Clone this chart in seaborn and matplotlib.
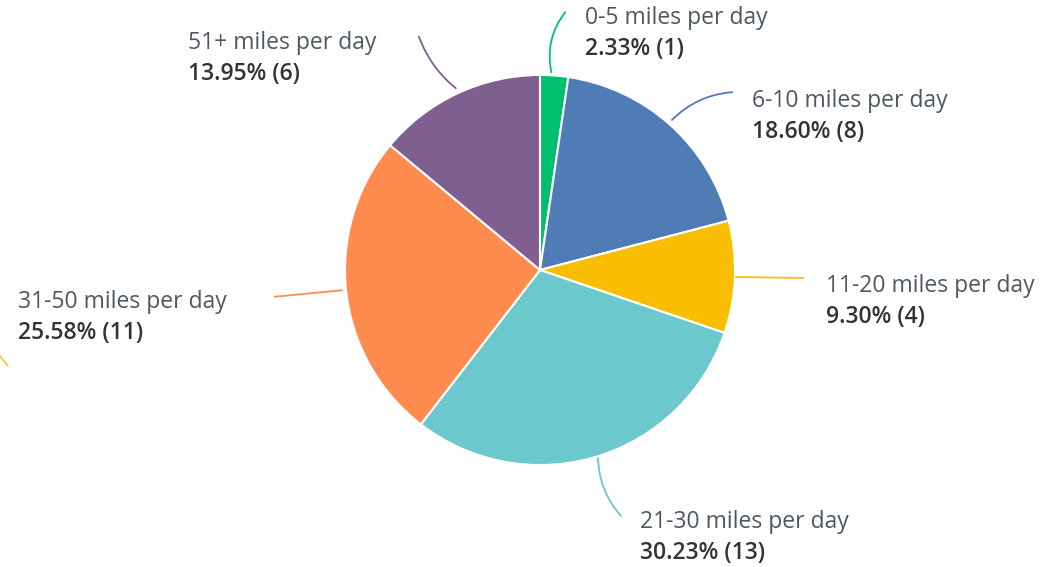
import matplotlib
matplotlib.use("Agg")
import matplotlib.pyplot as plt
import seaborn as sns

# datos del gráfico
categorias = ["0-5 miles per day", "6-10 miles per day", "11-20 miles per day",
              "21-30 miles per day", "31-50 miles per day", "51+ miles per day"]
respuestas = [1, 8, 4, 13, 11, 6]
colores = ["#00bf6f", "#507cb6", "#f9be00", "#6bc8cd", "#ff8b4f", "#7f5f90"]

sns.set_theme(style="white")
plt.rcParams["font.family"] = ["Open Sans", "DejaVu Sans"]

fig = plt.figure(figsize=(10.48, 5.67), dpi=100)
ax = fig.add_axes([0, 0, 1, 1])

palette = sns.color_palette(colores)
wedges, _ = ax.pie(respuestas, colors=palette, startangle=90, counterclock=False,
                   center=(540, 297), radius=195,
                   wedgeprops=dict(edgecolor="white", linewidth=1.5))
ax.set_aspect("equal")
ax.set_xlim(0, 1048)
ax.set_ylim(0, 567)
ax.axis("off")

total = sum(respuestas)

# posiciones de etiquetas y líneas guía (en píxeles, y desde arriba)
etiquetas = [
    # (x texto, y texto, inicio línea, fin línea, curvatura)
    (585, 18, (552, 75), (567, 10), -0.25),
    (752, 101, (670, 122), (735, 92), -0.2),
    (826, 286, (733, 277), (806, 278), 0.0),
    (640, 522, (598, 455), (623, 518), 0.2),
    (18, 302, (345, 290), (272, 297), 0.0),
    (188, 43, (458, 90), (418, 34), -0.15),
]

for (cat, n, col, (tx, ty, p0, p1, rad)) in zip(categorias, respuestas, colores, etiquetas):
    ax.annotate("", xy=(p1[0], 567 - p1[1]), xytext=(p0[0], 567 - p0[1]),
                arrowprops=dict(arrowstyle="-", color=col, lw=1.3,
                                connectionstyle=f"arc3,rad={rad}"))
    ax.text(tx, 567 - ty, cat, fontsize=16.5, color="#4e5863", va="center", ha="left",
            fontweight="medium")
    ax.text(tx, 567 - ty - 31, f"{n / total * 100:.2f}% ({n})", fontsize=16.5,
            color="#333333", fontweight="semibold", va="center", ha="left")

# pequeño trazo amarillo suelto en el borde izquierdo
ax.plot([0, 8], [567 - 356, 567 - 366], color="#f9be00", lw=1)

fig.savefig("out.png", dpi=100)
plt.close()
